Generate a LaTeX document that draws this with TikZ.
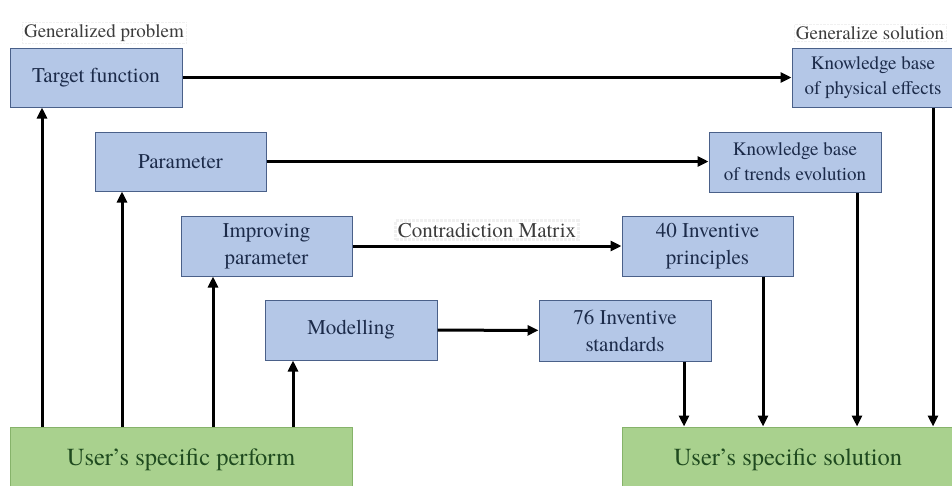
\documentclass[tikz,border=0pt]{standalone}
\usepackage{fontspec}
\setmainfont{texgyretermes}[Extension=.otf,UprightFont=*-regular,BoldFont=*-bold,ItalicFont=*-italic,BoldItalicFont=*-bolditalic]
\usetikzlibrary{arrows.meta,positioning}
\definecolor{bfill}{HTML}{B4C7E7}
\definecolor{bdraw}{HTML}{4A6089}
\definecolor{btext}{HTML}{1C2B4A}
\definecolor{gfill}{HTML}{A9D18E}
\definecolor{gdraw}{HTML}{86B36A}
\definecolor{gtext}{HTML}{1F4A1F}
\definecolor{ltext}{HTML}{3C3C3C}
\tikzset{
  x=1pt,y=1pt,
  bbox/.style={draw=bdraw,fill=bfill,line width=1pt,text=btext,align=center,
    font=\fontsize{21}{27}\selectfont,inner sep=0pt},
  sbox/.style={bbox,font=\fontsize{19}{25}\selectfont},
  gbox/.style={draw=gdraw,fill=gfill,line width=1pt,text=gtext,align=center,
    font=\fontsize{24.5}{28}\selectfont,inner sep=0pt},
  lbl/.style={text=ltext,font=\fontsize{19}{24}\selectfont,inner sep=2pt,
    draw=gray!12,densely dotted},
  arr/.style={line width=3pt,-{Triangle[length=11pt,width=10pt]}},
}
\begin{document}
\begin{tikzpicture}
\useasboundingbox (0,0) rectangle (952,-485);
% blue boxes
\node[bbox,minimum width=172,minimum height=59] (tf) at (96,-77.5) {Target function};
\node[sbox,minimum width=162,minimum height=59] (kpe) at (873,-77.5) {Knowledge base\\of physical effects};
\node[bbox,minimum width=171,minimum height=59] (par) at (180.5,-161.5) {Parameter};
\node[sbox,minimum width=172,minimum height=60] (kte) at (795,-162) {Knowledge base\\of trends evolution};
\node[bbox,minimum width=171,minimum height=60] (imp) at (266.5,-246) {Improving\\parameter};
\node[bbox,minimum width=171,minimum height=60] (ipr) at (707.5,-246) {40 Inventive\\principles};
\node[bbox,minimum width=172,minimum height=60] (mod) at (351,-330) {Modelling};
\node[bbox,minimum width=172,minimum height=61] (std) at (625,-330.5) {76 Inventive\\standards};
% green boxes
\node[gbox,minimum width=342,minimum height=66] (usp) at (181,-460) {User’s specific perform};
\node[gbox,minimum width=332,minimum height=66] (uss) at (788,-460) {User’s specific solution};
% labels
\node[lbl] (gp) at (104,-33) {Generalized problem};
\node[lbl] (gs) at (870,-33) {Generalize solution};
% horizontal arrows
\draw[arr] (tf) -- (kpe);
\draw[arr] (par.east) -- (par.east -| kte.west);
\draw[arr] (imp) -- node[lbl,font=\fontsize{21}{24}\selectfont,above=5pt] (cm) {Contradiction Matrix} (ipr);
\draw[arr] (mod) -- (std);
% vertical arrow positions
\coordinate (u1) at (42,0);
\coordinate (u2) at (122,0);
\coordinate (u3) at (213,0);
\coordinate (u4) at (293,0);
\coordinate (d1) at (684,0);
\coordinate (d2) at (763,0);
\coordinate (d3) at (857,0);
\coordinate (d4) at (933,0);
\draw[arr] (u1 |- usp.north) -- (u1 |- tf.south);
\draw[arr] (u2 |- usp.north) -- (u2 |- par.south);
\draw[arr] (u3 |- usp.north) -- (u3 |- imp.south);
\draw[arr] (u4 |- usp.north) -- (u4 |- mod.south);
\draw[arr] (d1 |- std.south) -- (d1 |- uss.north);
\draw[arr] (d2 |- ipr.south) -- (d2 |- uss.north);
\draw[arr] (d3 |- kte.south) -- (d3 |- uss.north);
\draw[arr] (d4 |- kpe.south) -- (d4 |- uss.north);
\end{tikzpicture}
\end{document}
